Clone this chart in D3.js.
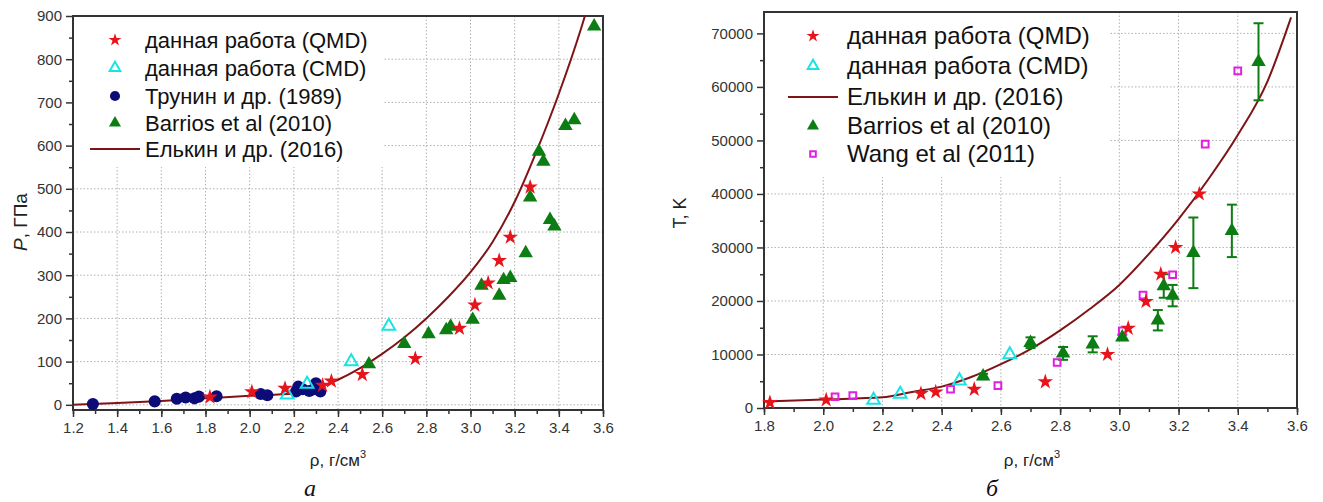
<!DOCTYPE html>
<html>
<head>
<meta charset="utf-8">
<script src="https://cdn.jsdelivr.net/npm/d3@7"></script>
<style>
  body { margin: 0; background: #fff; }
  svg { font-family: "Liberation Sans", Arial, sans-serif; }
  .grid line { stroke: #b0b0b0; stroke-width: 1; stroke-dasharray: 1.5,2; }
  .axis path { display: none; }
  .axis line { stroke: #333; stroke-width: 1.5; }
  .axis text { fill: #333; }
</style>
</head>
<body>
<svg id="chart" width="1323" height="502"></svg>
<script>
// ---- panel a: pressure vs density ----
const qmdP = [[1.82,18],[2.01,30],[2.16,38],[2.33,45],[2.37,55],[2.51,70],[2.75,107],[2.95,177],[3.02,231],[3.08,282],[3.13,334],[3.18,388],[3.27,504]];
const cmdP = [[2.17,23],[2.26,48],[2.46,100],[2.63,182]];
const truninP = [[1.29,2],[1.57,8],[1.67,14],[1.71,17],[1.75,15],[1.77,19],[1.85,20],[2.05,25],[2.08,22],[2.21,31],[2.22,42],[2.24,36],[2.27,32],[2.29,36],[2.30,50],[2.31,38],[2.32,31]];
const barriosP = [[2.54,94],[2.70,141],[2.81,164],[2.89,173],[2.91,181],[3.01,197],[3.05,276],[3.13,253],[3.15,289],[3.18,294],[3.25,351],[3.27,480],[3.31,586],[3.33,563],[3.36,428],[3.38,413],[3.43,646],[3.47,659],[3.56,876]];
const elkinP = [[1.2,0],[1.4,4],[1.6,9],[1.8,15],[2.0,21],[2.2,26],[2.3,38],[2.4,58],[2.5,85],[2.6,118],[2.7,156],[2.8,200],[2.9,250],[3.0,307],[3.1,377],[3.2,470],[3.3,588],[3.4,720],[3.5,870],[3.53,920]];
const xTicksP = [1.2,1.4,1.6,1.8,2.0,2.2,2.4,2.6,2.8,3.0,3.2,3.4,3.6];
const yTicksP = [0,100,200,300,400,500,600,700,800,900];

// ---- panel b: temperature vs density ----
const qmdT = [[1.82,1000],[2.01,1500],[2.33,2700],[2.38,3000],[2.51,3500],[2.75,4900],[2.96,10000],[3.03,14900],[3.09,19900],[3.14,25000],[3.19,30000],[3.27,40000]];
const cmdT = [[2.17,1500],[2.26,2600],[2.46,5100],[2.63,10000]];
const elkinT = [[1.8,1200],[2.0,1600],[2.2,2000],[2.3,3000],[2.4,4000],[2.5,5800],[2.6,8200],[2.7,11000],[2.8,14500],[2.9,18500],[3.0,23000],[3.1,28800],[3.2,35300],[3.3,42700],[3.4,51000],[3.5,61000],[3.58,73000]];
// density, temperature, error
const barriosT = [[2.54,5900,500],[2.70,12200,1000],[2.81,10200,1200],[2.91,11900,1500],[3.01,13200,500],[3.13,16400,1900],[3.15,22800,2200],[3.18,21000,2000],[3.25,29000,6600],[3.38,33100,4900],[3.47,64700,7200]];
const wangT = [[2.04,2100],[2.10,2300],[2.43,3500],[2.59,4200],[2.79,8500],[3.01,14400],[3.08,21100],[3.18,24900],[3.29,49300],[3.40,63000]];
const xTicksT = [1.8,2.0,2.2,2.4,2.6,2.8,3.0,3.2,3.4,3.6];
const yTicksT = [0,10000,20000,30000,40000,50000,60000,70000];

const RED = '#e8141c', CYAN = '#19e3e3', NAVY = '#0c0c78', GREEN = '#0b7d12', MAG = '#e01fe0', LINE = '#7e1416';

const svg = d3.select('#chart');

const styles = {
  qmd: { type: d3.symbolStar, size: 75, fill: RED, stroke: 'none' },
  cmd: { type: d3.symbolTriangle, size: 70, fill: 'none', stroke: CYAN },
  trunin: { type: d3.symbolCircle, size: 115, fill: NAVY, stroke: 'none' },
  barrios: { type: d3.symbolTriangle, size: 90, fill: GREEN, stroke: 'none' },
  wang: { type: d3.symbolSquare, size: 45, fill: 'none', stroke: MAG }
};

function drawMarks(g, data, st, x, y) {
  g.append('g').selectAll('path')
    .data(data)
    .enter().append('path')
    .attr('transform', d => `translate(${x(d[0])},${y(d[1])})`)
    .attr('d', d3.symbol().type(st.type).size(st.size))
    .attr('fill', st.fill)
    .attr('stroke', st.stroke)
    .attr('stroke-width', 2);
}

function panel(cfg) {
  const { left, right, top, bottom } = cfg;
  const x = d3.scaleLinear().domain(cfg.xDomain).range([left, right]);
  const y = d3.scaleLinear().domain(cfg.yDomain).range([bottom, top]);
  const g = svg.append('g');

  const clipId = 'clip' + cfg.id;
  g.append('clipPath').attr('id', clipId)
    .append('rect').attr('x', left).attr('y', top)
    .attr('width', right - left).attr('height', bottom - top);

  // grid
  const grid = g.append('g').attr('class', 'grid');
  grid.selectAll('.v').data(cfg.xTicks.slice(1, -1)).enter().append('line')
    .attr('x1', d => x(d)).attr('x2', d => x(d)).attr('y1', top).attr('y2', bottom);
  grid.selectAll('.h').data(cfg.yTicks.filter(v => y(v) > top + 2 && y(v) < bottom - 2)).enter().append('line')
    .attr('x1', left).attr('x2', right).attr('y1', d => y(d)).attr('y2', d => y(d));

  // legend background hides grid
  g.append('rect').attr('x', left + 1).attr('y', top + 1)
    .attr('width', cfg.legend.w).attr('height', cfg.legend.h).attr('fill', '#fff');

  // axes with minor ticks
  const xMinor = d3.range(cfg.xDomain[0] * 10, cfg.xDomain[1] * 10 + 0.5).map(v => v / 10);
  g.append('g').attr('class', 'axis').attr('transform', `translate(0,${bottom})`)
    .call(d3.axisBottom(x).tickValues(xMinor).tickSize(4).tickFormat(''));
  g.append('g').attr('class', 'axis').attr('transform', `translate(0,${bottom})`)
    .call(d3.axisBottom(x).tickValues(cfg.xTicks).tickSize(7).tickPadding(5).tickFormat(d3.format('.1f')))
    .selectAll('text').style('font-size', cfg.tickFont + 'px');

  const yMinor = cfg.yTicks.slice(0, -1).map((v, i) => (v + cfg.yTicks[i + 1]) / 2);
  g.append('g').attr('class', 'axis').attr('transform', `translate(${left},0)`)
    .call(d3.axisLeft(y).tickValues(yMinor).tickSize(4).tickFormat(''));
  g.append('g').attr('class', 'axis').attr('transform', `translate(${left},0)`)
    .call(d3.axisLeft(y).tickValues(cfg.yTicks).tickSize(7).tickPadding(4).tickFormat(d3.format('d')))
    .selectAll('text').style('font-size', cfg.tickFont + 'px');

  // frame
  g.append('rect').attr('x', left).attr('y', top)
    .attr('width', right - left).attr('height', bottom - top)
    .attr('fill', 'none').attr('stroke', '#333').attr('stroke-width', 2);

  // curve
  g.append('path').datum(cfg.curve)
    .attr('clip-path', `url(#${clipId})`)
    .attr('d', d3.line().x(d => x(d[0])).y(d => y(d[1])).curve(d3.curveMonotoneX))
    .attr('fill', 'none').attr('stroke', LINE).attr('stroke-width', 2);

  // error bars
  if (cfg.errors) {
    const eb = g.append('g').attr('stroke', GREEN).attr('stroke-width', 2);
    cfg.errors.forEach(d => {
      const cx = x(d[0]), y0 = y(d[1] - d[2]), y1 = y(d[1] + d[2]);
      eb.append('line').attr('x1', cx).attr('x2', cx).attr('y1', y0).attr('y2', y1);
      eb.append('line').attr('x1', cx - 5).attr('x2', cx + 5).attr('y1', y0).attr('y2', y0);
      eb.append('line').attr('x1', cx - 5).attr('x2', cx + 5).attr('y1', y1).attr('y2', y1);
    });
  }

  cfg.series.forEach(s => drawMarks(g, s.data, styles[s.key], x, y));

  // legend
  const lg = g.append('g');
  cfg.legend.items.forEach((it, i) => {
    const ly = cfg.legend.rows[i];
    if (it.key === 'line') {
      lg.append('line').attr('x1', cfg.legend.sx - 25).attr('x2', cfg.legend.sx + 25)
        .attr('y1', ly).attr('y2', ly).attr('stroke', LINE).attr('stroke-width', 2);
    } else {
      const st = styles[it.key];
      lg.append('path').attr('transform', `translate(${cfg.legend.sx},${ly})`)
        .attr('d', d3.symbol().type(st.type).size(st.size * 0.7))
        .attr('fill', st.fill).attr('stroke', st.stroke).attr('stroke-width', 2);
    }
    lg.append('text').attr('x', cfg.legend.tx).attr('y', ly).attr('dy', '0.35em')
      .style('font-size', cfg.legend.font + 'px').attr('fill', '#111').text(it.label);
  });

  // axis titles
  const xt = g.append('text').attr('x', cfg.xTitle[0]).attr('y', cfg.xTitle[1])
    .attr('text-anchor', 'middle').style('font-size', '17px').attr('fill', '#222');
  xt.append('tspan').text('ρ, г/см');
  xt.append('tspan').attr('dy', -8).style('font-size', '11px').text('3');

  const yt = g.append('text')
    .attr('transform', `translate(${cfg.yTitle[0]},${cfg.yTitle[1]}) rotate(-90)`)
    .attr('text-anchor', 'middle').style('font-size', cfg.yTitle[2] + 'px').attr('fill', '#222');
  yt.append('tspan').style('font-style', cfg.yTitleItalic ? 'italic' : 'normal').text(cfg.yTitleMain);
  yt.append('tspan').text(cfg.yTitleRest);

  g.append('text').attr('x', cfg.letter[0]).attr('y', cfg.letter[1])
    .attr('text-anchor', 'middle')
    .style('font-family', '"Liberation Serif", "DejaVu Serif", serif')
    .style('font-style', 'italic').style('font-size', '24px').attr('fill', '#111')
    .text(cfg.letter[2]);
}

panel({
  id: 'a', left: 73, right: 603, top: 16, bottom: 410,
  xDomain: [1.2, 3.6], yDomain: [-12, 900],
  xTicks: xTicksP, yTicks: yTicksP, tickFont: 15,
  curve: elkinP,
  series: [
    { key: 'trunin', data: truninP },
    { key: 'barrios', data: barriosP },
    { key: 'cmd', data: cmdP },
    { key: 'qmd', data: qmdP }
  ],
  legend: {
    w: 309, h: 150, sx: 115, tx: 145, font: 22, rows: [40, 68, 96, 123, 149],
    items: [
      { key: 'qmd', label: 'данная работа (QMD)' },
      { key: 'cmd', label: 'данная работа (CMD)' },
      { key: 'trunin', label: 'Трунин и др. (1989)' },
      { key: 'barrios', label: 'Barrios et al (2010)' },
      { key: 'line', label: 'Елькин и др. (2016)' }
    ]
  },
  xTitle: [338, 466], yTitle: [27, 222, 19], yTitleItalic: true, yTitleMain: 'P', yTitleRest: ', ГПа',
  letter: [310, 496, 'а']
});

panel({
  id: 'b', left: 764, right: 1297, top: 12, bottom: 408,
  xDomain: [1.8, 3.6], yDomain: [0, 74000],
  xTicks: xTicksT, yTicks: yTicksT, tickFont: 15,
  curve: elkinT, errors: barriosT,
  series: [
    { key: 'wang', data: wangT },
    { key: 'barrios', data: barriosT },
    { key: 'cmd', data: cmdT },
    { key: 'qmd', data: qmdT }
  ],
  legend: {
    w: 345, h: 164, sx: 813, tx: 847, font: 24, rows: [36, 66, 97, 126, 154],
    items: [
      { key: 'qmd', label: 'данная работа (QMD)' },
      { key: 'cmd', label: 'данная работа (CMD)' },
      { key: 'line', label: 'Елькин и др. (2016)' },
      { key: 'barrios', label: 'Barrios et al (2010)' },
      { key: 'wang', label: 'Wang et al (2011)' }
    ]
  },
  xTitle: [1032, 466], yTitle: [686, 213, 18], yTitleItalic: false, yTitleMain: 'T', yTitleRest: ', K',
  letter: [992, 496, 'б']
});
</script>
</body>
</html>
